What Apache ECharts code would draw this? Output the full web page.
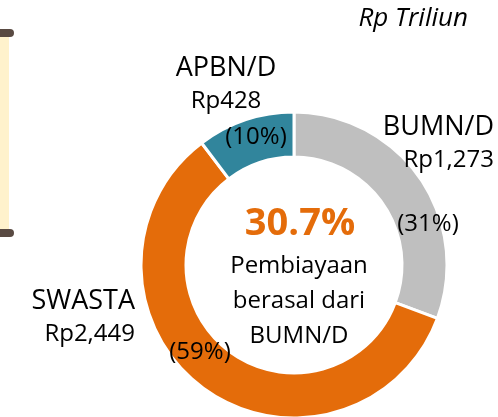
<!DOCTYPE html>
<html>
<head>
<meta charset="utf-8">
<script src="https://cdn.jsdelivr.net/npm/echarts@6/dist/echarts.min.js"></script>
<style>
  html, body { margin: 0; padding: 0; background: #fff; }
  #main { width: 498px; height: 417px; }
</style>
</head>
<body>
<div id="main"></div>
<script>
// data
var sources = ['BUMN/D', 'SWASTA', 'APBN/D'];
var amounts = [1273, 2449, 428];   // Rp triliun
var colors = ['#BFBFBF', '#E46C0A', '#31859C'];
var unitText = 'Rp Triliun';
var centerNote = ['Pembiayaan', 'berasal dari', 'BUMN/D'];

var FONT = '"Open Sans", sans-serif';
var total = amounts.reduce(function (a, b) { return a + b; }, 0);
var share = (amounts[0] / total * 100).toFixed(1);

function rp(v) {
    return 'Rp' + v.toLocaleString('en-US');
}

// posisi label (nama + nilai) dan label persen
var nameLayout = {
    'BUMN/D': { x: 494, y: 144, align: 'right' },
    'SWASTA': { x: 135, y: 318, align: 'right' },
    'APBN/D': { x: 226, y: 85, align: 'center' }
};
var pctLayout = {
    'BUMN/D': { x: 428, y: 224 },
    'SWASTA': { x: 200, y: 352 },
    'APBN/D': { x: 256, y: 137 }
};

var pieData = sources.map(function (s, i) {
    return { name: s, value: amounts[i], itemStyle: { color: colors[i] } };
});

var chart = echarts.init(document.getElementById('main'));
var option = {
    animation: false,
    graphic: [
        // tepi kiri (gulungan)
        { type: 'rect', shape: { x: 0, y: 33, width: 9, height: 200 }, style: { fill: '#FFF2CC' } },
        { type: 'rect', shape: { x: -6, y: 29, width: 20, height: 8, r: 4 }, style: { fill: '#594A42' } },
        { type: 'rect', shape: { x: -6, y: 229, width: 20, height: 8, r: 4 }, style: { fill: '#594A42' } },
        {
            type: 'text', right: 30, top: 6,
            style: { text: unitText, font: 'italic 26px ' + FONT, fill: '#000' }
        },
        {
            type: 'text', x: 300, y: 243,
            style: {
                text: share + '%', font: 'bold 38px ' + FONT, fill: '#E46C0A',
                textAlign: 'center', textVerticalAlign: 'bottom'
            }
        },
        {
            type: 'text', x: 299, y: 249,
            style: {
                text: centerNote.join('\n'), font: '24px ' + FONT, fill: '#000',
                textAlign: 'center', lineHeight: 35
            }
        }
    ],
    series: [
        {
            type: 'pie',
            center: [294, 265],
            radius: [108, 153],
            startAngle: 90,
            silent: true,
            itemStyle: { borderColor: '#fff', borderWidth: 3 },
            label: {
                show: true,
                overflow: 'none',
                formatter: function (p) {
                    return '{n|' + p.name + '}\n{v|' + rp(p.value) + '}';
                },
                rich: {
                    n: { fontFamily: FONT, fontSize: 27, color: '#000', lineHeight: 33 },
                    v: { fontFamily: FONT, fontSize: 24, color: '#000', lineHeight: 33 }
                }
            },
            labelLine: { show: false },
            labelLayout: function (p) {
                var l = nameLayout[sources[p.dataIndex]];
                return { x: l.x, y: l.y, align: l.align, verticalAlign: 'middle' };
            },
            data: pieData
        },
        {
            type: 'pie',
            center: [294, 265],
            radius: [108, 153],
            startAngle: 90,
            silent: true,
            itemStyle: { color: 'rgba(0,0,0,0)' },
            label: {
                show: true,
                overflow: 'none',
                fontFamily: FONT,
                fontSize: 24,
                color: '#000',
                formatter: function (p) {
                    return '(' + Math.round(p.value / total * 100) + '%)';
                }
            },
            labelLine: { show: false },
            labelLayout: function (p) {
                var l = pctLayout[sources[p.dataIndex]];
                return { x: l.x, y: l.y, align: 'center', verticalAlign: 'middle' };
            },
            data: sources.map(function (s, i) { return { name: s, value: amounts[i] }; })
        }
    ]
};
chart.setOption(option);
</script>
</body>
</html>
